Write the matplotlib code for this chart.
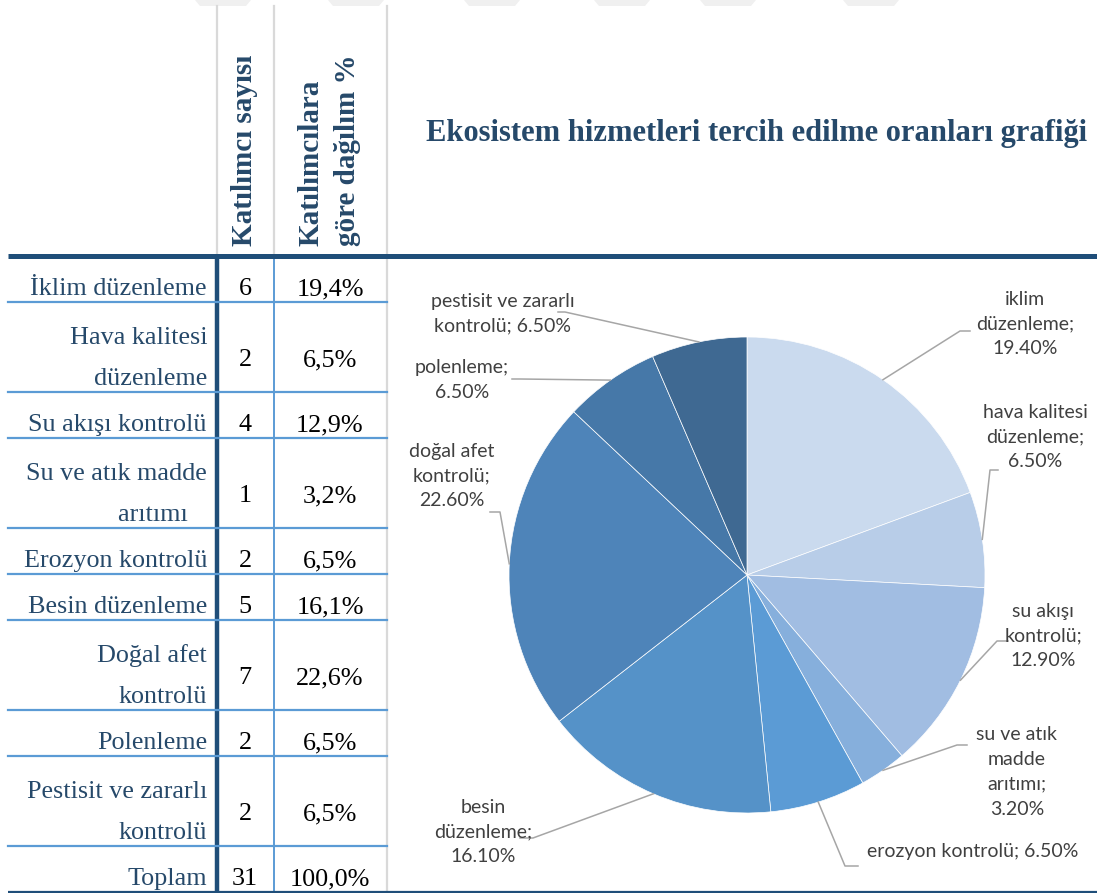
import numpy as np
import matplotlib.pyplot as plt
from matplotlib.patches import Polygon

# table data
rows = ["İklim düzenleme", "Hava kalitesi\ndüzenleme", "Su akışı kontrolü",
        "Su ve atık madde\narıtımı   ", "Erozyon kontrolü", "Besin düzenleme",
        "Doğal afet\nkontrolü", "Polenleme", "Pestisit ve zararlı\nkontrolü"]
counts = [6, 2, 4, 1, 2, 5, 7, 2, 2]
shares = [19.4, 6.5, 12.9, 3.2, 6.5, 16.1, 22.6, 6.5, 6.5]
total_label = "Toplam"
total_share = 100.0

header_count = "Katılımcı sayısı"
header_share = "Katılımcılara\ngöre dağılım %"
title = "Ekosistem hizmetleri tercih edilme oranları grafiği"

# pie data
pie_names = ["iklim\ndüzenleme", "hava kalitesi\ndüzenleme", "su akışı\nkontrolü",
             "su ve atık\nmadde\narıtımı", "erozyon kontrolü", "besin\ndüzenleme",
             "doğal afet\nkontrolü", "polenleme", "pestisit ve zararlı\nkontrolü"]
pie_values = [19.40, 6.50, 12.90, 3.20, 6.50, 16.10, 22.60, 6.50, 6.50]
pie_seps = ["\n", "\n", "\n", "\n", " ", "\n", "\n", "\n", " "]
pie_colors = ["#CADAEE", "#B8CDE8", "#A1BDE2", "#86AFDC", "#5B9BD5",
              "#5592C8", "#4E84B9", "#4678A8", "#3F6992"]

W, H = 1097, 893
DARK = "#1F4E79"
LIGHT = "#5B9BD5"
GRID = "#D9D9D9"
TEXT_BLUE = "#26496A"

fig = plt.figure(figsize=(W / 100, H / 100), dpi=100)
ax = fig.add_axes([0, 0, 1, 1])

# faint stripes along the top edge
for x0 in [195, 328, 464, 594, 700, 843]:
    ax.add_patch(Polygon([(x0, 0), (x0 + 56, 0), (x0 + 51, 6), (x0 + 5, 6)],
                         closed=True, color="#F0F0F0", lw=0, zorder=0))

# row boundaries
line_h = 43.3
bounds = [256.0]
for lab in rows + [total_label]:
    bounds.append(bounds[-1] + 3 + line_h * (lab.count("\n") + 1))

serif = "Liberation Serif"
body_fs = 18.8

# vertical rules
ax.plot([217, 217], [6, bounds[0]], color=GRID, lw=1.6)
ax.plot([274, 274], [6, bounds[0]], color=GRID, lw=1.6)
ax.plot([387, 387], [6, H], color=GRID, lw=1.6)
ax.plot([217, 217], [bounds[0], H], color=DARK, lw=3.2, solid_capstyle="butt")
ax.plot([274, 274], [bounds[0], H], color=LIGHT, lw=1.4)

# horizontal rules
for yb in bounds[1:-1]:
    ax.plot([8, 387], [yb, yb], color=LIGHT, lw=1.6)
ax.plot([8, W], [bounds[0], bounds[0]], color=DARK, lw=3.6, solid_capstyle="butt")
ax.plot([8, W], [bounds[-1], bounds[-1]], color=DARK, lw=1.6, solid_capstyle="butt")

# table body
all_rows = rows + [total_label]
all_counts = counts + [sum(counts)]
all_shares = shares + [total_share]
for i, lab in enumerate(all_rows):
    bottom = bounds[i + 1]
    lines = lab.split("\n")
    n = len(lines)
    for j, ln in enumerate(lines):
        ax.text(207, bottom - 7 - (n - 1 - j) * 41, ln, ha="right", va="baseline",
                family=serif, fontsize=body_fs, color=TEXT_BLUE)
    yb = bottom - 7 - (n - 1) * 18.5
    ax.text(245, yb, str(all_counts[i]), ha="center", va="baseline",
            family=serif, fontsize=body_fs, color="black")
    ax.text(330, yb, f"{all_shares[i]:.1f}%".replace(".", ","), ha="center",
            va="baseline", family=serif, fontsize=body_fs, color="black")

# column headers
ax.text(245, 246, header_count, rotation=90, ha="center", va="bottom",
        family=serif, fontweight="bold", fontsize=21, color=TEXT_BLUE)
ax.text(329, 246, header_share, rotation=90, ha="center", va="bottom",
        multialignment="left", linespacing=1.45,
        family=serif, fontweight="bold", fontsize=21, color=TEXT_BLUE)

# title
ax.text(757, 133, title, ha="center", va="center", family=serif,
        fontweight="bold", fontsize=22, color=TEXT_BLUE)

# pie (y axis is flipped, so counterclockwise in data runs clockwise on screen)
cx, cy, r = 747, 575, 238
wedges, _ = ax.pie(pie_values, colors=pie_colors, startangle=-90, counterclock=True,
                   center=(cx, cy), radius=r,
                   wedgeprops=dict(edgecolor="white", linewidth=0.5))

label_pos = [(1025, 324), (1035, 437), (1043, 636), (1017, 772), (973, 852),
             (483, 832), (452, 476), (462, 380), (503, 314)]
leaders = [((960, 331), (970, 331)), ((990, 470), (998, 470)),
           ((997, 641), (1008, 641)), ((957, 745), (967, 745)),
           ((845, 866), (858, 866)), ((533, 838), (520, 838)),
           ((500, 512), (490, 512)), ((520, 379), (512, 379)),
           ((565, 312), (558, 312))]

for w, name, val, sep, (tx, ty), (elbow, end) in zip(
        wedges, pie_names, pie_values, pie_seps, label_pos, leaders):
    ang = np.deg2rad((w.theta1 + w.theta2) / 2)
    anchor = (cx + r * np.cos(ang), cy + r * np.sin(ang))
    ax.plot([anchor[0], elbow[0], end[0]], [anchor[1], elbow[1], end[1]],
            color="#A6A6A6", lw=1.1, zorder=3)
    ax.text(tx, ty, f"{name};{sep}{val:.2f}%", ha="center", va="center",
            multialignment="center", family="Lato", fontsize=14,
            color="#404040", linespacing=1.55)

ax.set_xlim(0, W)
ax.set_ylim(H, 0)
ax.set_aspect("auto")
ax.axis("off")

fig.savefig("out.png", dpi=100)
